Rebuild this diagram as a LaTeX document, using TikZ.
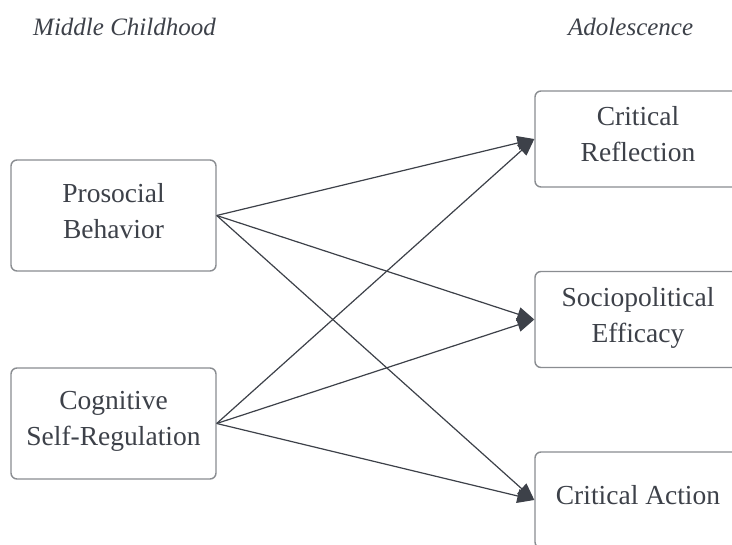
\documentclass[tikz,border=0pt]{standalone}
\usepackage{fontspec}
\setmainfont{Liberation Serif}
\usetikzlibrary{arrows.meta}
\definecolor{ink}{HTML}{3D4149}
\definecolor{frame}{HTML}{8A8D91}
\begin{document}
\begin{tikzpicture}[x=1pt,y=-1pt,
  box/.style={draw=frame, line width=1.4pt, rounded corners=6pt, align=center,
    text=ink, font=\fontsize{27.5}{36}\selectfont, inner sep=0pt, text depth=10pt},
  leftbox/.style={box, minimum width=205pt, minimum height=111pt},
  rightbox/.style={box, minimum width=206pt, minimum height=96pt},
  header/.style={text=ink, font=\fontsize{25}{28}\selectfont\itshape, anchor=base west, inner sep=0pt},
  link/.style={draw=ink, line width=1.2pt, -{Triangle[length=17pt,width=14pt]}}]
\useasboundingbox (0,0) rectangle (732,545);
\clip (0,0) rectangle (732,545);
\fill[white] (0,0) rectangle (732,545);

% column headings
\node[header] (hmid) at (33,36) {Middle Childhood};
\node[header] (hado) at (568,36) {Adolescence};

% middle childhood predictors
\node[leftbox] (pro) at (113.5,215.5) {Prosocial\\Behavior};
\node[leftbox] (cog) at (113.5,423.5) {Cognitive\\Self-Regulation};

% adolescent outcomes
\node[rightbox] (ref) at (638,139) {Critical\\Reflection};
\node[rightbox] (eff) at (638,319.5) {Sociopolitical\\Efficacy};
\node[rightbox] (act) at (638,500) {Critical Action};

% paths
\foreach \s in {pro,cog}
  \foreach \t in {ref,eff,act}
    \draw[link] (\s.east) -- (\t.west);
\end{tikzpicture}
\end{document}
